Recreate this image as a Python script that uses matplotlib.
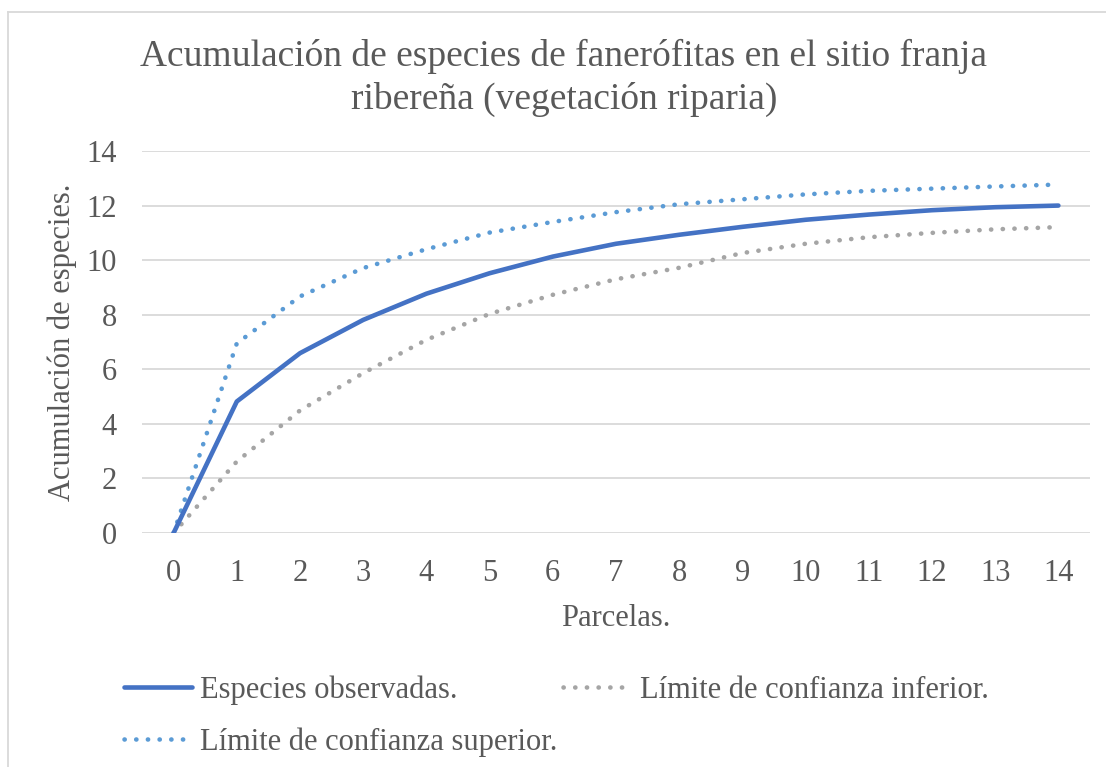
import matplotlib.pyplot as plt
from matplotlib.lines import Line2D

# Datos
parcelas = list(range(0, 15))
observadas = [0, 4.82, 6.59, 7.81, 8.77, 9.52, 10.13, 10.6, 10.93, 11.22, 11.48, 11.67, 11.83, 11.94, 12.0]
limite_inferior = [0, 2.62, 4.49, 5.86, 7.08, 8.03, 8.73, 9.3, 9.72, 10.26, 10.6, 10.84, 11.0, 11.13, 11.21]
limite_superior = [0, 6.95, 8.67, 9.71, 10.4, 11.01, 11.4, 11.76, 12.05, 12.23, 12.41, 12.54, 12.62, 12.7, 12.77]
yticks = [0, 2, 4, 6, 8, 10, 12, 14]

titulo = "Acumulación de especies de fanerófitas en el sitio franja\nribereña (vegetación riparia)"

plt.rcParams['font.family'] = ['Liberation Serif', 'DejaVu Serif']
texto = '#595959'
W, H = 1106, 767

fig = plt.figure(figsize=(W / 100, H / 100), dpi=100)
ax = fig.add_axes([142 / W, 1 - 533 / H, (1090 - 142) / W, (533 - 151) / H])

# Líneas
punteado = (0, (0.05, 2.5))
l_obs, = ax.plot(parcelas, observadas, color='#4472C4', lw=3.3,
                 solid_capstyle='round', solid_joinstyle='round', zorder=3)
l_inf, = ax.plot(parcelas, limite_inferior, color='#A5A5A5', lw=3.3,
                 linestyle=punteado, dash_capstyle='round', zorder=2)
l_sup, = ax.plot(parcelas, limite_superior, color='#5B9BD5', lw=3.3,
                 linestyle=punteado, dash_capstyle='round', zorder=2)

ax.set_xlim(-0.5, 14.5)
ax.set_ylim(0, 14)
ax.set_xticks(parcelas)
ax.set_yticks(yticks)
ax.grid(axis='y', color='#D9D9D9', lw=1.3)
ax.set_axisbelow(True)
for s in ax.spines.values():
    s.set_visible(False)
ax.tick_params(length=0, labelsize=22, labelcolor=texto)
ax.tick_params(axis='y', pad=18)
ax.tick_params(axis='x', pad=19)

ax.set_xlabel("Parcelas.", fontsize=22, color=texto, labelpad=11)
fig.text(62 / W, 1 - 342 / H, "Acumulación de especies.", rotation=90,
         ha='center', va='center', fontsize=22, color=texto)

fig.text(564 / W, 1 - 78 / H, titulo, ha='center', va='center',
         fontsize=27, color=texto, linespacing=1.3)

# Leyenda
leg = fig.legend([l_obs, l_sup, l_inf],
                 ["Especies observadas.", "Límite de confianza superior.", "Límite de confianza inferior."],
                 ncol=2, loc='upper left', bbox_to_anchor=(96 / W, 1 - 648 / H),
                 frameon=False, fontsize=22, labelcolor=texto,
                 handlelength=2.25, handletextpad=0.25, columnspacing=0.2,
                 labelspacing=0.74)

# Borde del área del gráfico
fig.add_artist(Line2D([8 / W, 1], [1 - 12 / H, 1 - 12 / H], color='#D9D9D9', lw=1.3))
fig.add_artist(Line2D([8 / W, 8 / W], [0, 1 - 12 / H], color='#D9D9D9', lw=1.3))

fig.savefig('out.png', dpi=100, facecolor='white')
